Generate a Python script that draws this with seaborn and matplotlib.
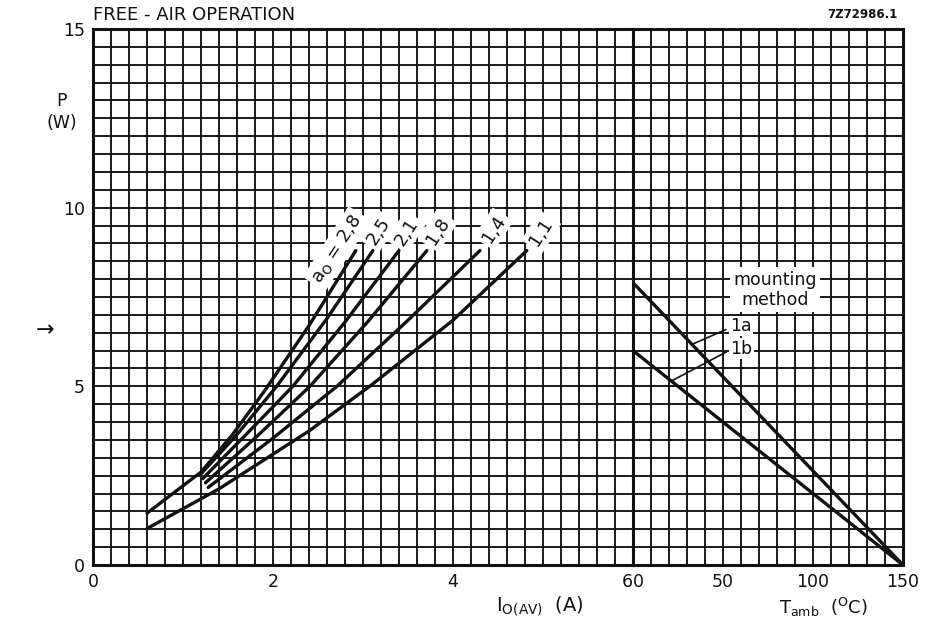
import numpy as np
import pandas as pd
import matplotlib
matplotlib.use("Agg")
import matplotlib.pyplot as plt
import seaborn as sns

# ---------------- data ----------------
# left panel: power P (W) vs average output current I_O(AV) (A), per form factor a_o
a28_I = [0.6, 1.2, 1.55, 1.9, 2.4, 2.92]
a28_P = [1.45, 2.6, 3.65, 4.85, 6.7, 8.8]
a25_I = [1.2, 1.6, 2.04, 2.6, 3.11]
a25_P = [2.55, 3.65, 5.0, 6.9, 8.8]
a21_I = [1.22, 1.7, 2.22, 2.8, 3.40]
a21_P = [2.42, 3.65, 5.0, 6.8, 8.8]
a18_I = [1.25, 1.8, 2.41, 3.05, 3.71]
a18_P = [2.3, 3.55, 5.0, 6.8, 8.8]
a14_I = [1.28, 2.0, 2.71, 3.5, 4.30]
a14_P = [2.17, 3.55, 5.0, 6.85, 8.8]
a11_I = [0.6, 1.4, 2.4, 3.1, 4.0, 4.82]
a11_P = [1.02, 2.13, 3.75, 5.05, 6.85, 8.8]
form_labels = ["a$_\\mathregular{O}$ = 2,8", "2,5", "2,1", "1,8", "1,4", "1,1"]

# right panel: P vs ambient temperature for mounting methods
tamb = [0, 150]
m1a_P = [7.9, 0.0]
m1b_P = [6.0, 0.0]

x_left_ticks = [0, 2, 4, 6]
x_right_ticks = [0, 50, 100, 150]
y_ticks = [0, 5, 10, 15]

# ---------------- build tables ----------------
curves = [(a28_I, a28_P), (a25_I, a25_P), (a21_I, a21_P),
          (a18_I, a18_P), (a14_I, a14_P), (a11_I, a11_P)]
names = ["2,8", "2,5", "2,1", "1,8", "1,4", "1,1"]
rows = []
for n, (I, P) in zip(names, curves):
    for k, (i, p) in enumerate(zip(I, P)):
        rows.append({"curve": n, "order": k, "I": i, "P": p})
df_left = pd.DataFrame(rows)

rows = []
for n, P in (("1a", m1a_P), ("1b", m1b_P)):
    for t, p in zip(tamb, P):
        rows.append({"method": n, "T": t, "P": p})
df_right = pd.DataFrame(rows)

# ---------------- style ----------------
sns.set_style("white")
plt.rcParams["font.family"] = ["DejaVu Sans"]
plt.rcParams["mathtext.fontset"] = "dejavusans"

W, H = 931, 630
fig = plt.figure(figsize=(W / 100, H / 100), dpi=100)
x0, x1, x2 = 93, 633, 903
ytop, ybot = 29, 565
ax1 = fig.add_axes([x0 / W, (H - ybot) / H, (x1 - x0) / W, (ybot - ytop) / H])
ax2 = fig.add_axes([x1 / W, (H - ybot) / H, (x2 - x1) / W, (ybot - ytop) / H])

black = "#111111"
grid_kw = dict(color=black, lw=1.35)

for ax in (ax1, ax2):
    ax.set_ylim(0, 15)
    ax.set_yticks(y_ticks)
    ax.set_yticks(np.arange(0, 15.01, 0.5), minor=True)
    ax.grid(which="both", **grid_kw)
    ax.set_axisbelow(True)
    for s in ax.spines.values():
        s.set_color(black)
        s.set_linewidth(2.2)
    ax.tick_params(which="both", length=0, labelsize=12.5, pad=6, colors=black)

ax1.set_xlim(0, 6)
ax1.set_xticks(x_left_ticks)
ax1.set_xticks(np.arange(0, 6.01, 0.2), minor=True)
ax2.set_xlim(0, 150)
ax2.set_xticks(x_right_ticks)
ax2.set_xticks(np.arange(0, 150.1, 10), minor=True)
ax2.set_yticklabels([])

xl = ax1.set_xticklabels([str(v) for v in x_left_ticks])
xl[-1].set_ha("right")
xr = ax2.set_xticklabels([str(v) for v in x_right_ticks])
xr[0].set_ha("left")

# ---------------- curves ----------------
sns.lineplot(data=df_left, x="I", y="P", units="curve", estimator=None,
             sort=False, color=black, lw=2.4, ax=ax1, legend=False)
sns.lineplot(data=df_right, x="T", y="P", units="method", estimator=None,
             sort=False, color=black, lw=2.4, ax=ax2, legend=False)
for ax in (ax1, ax2):
    ax.set_xlabel("")
    ax.set_ylabel("")

# curve labels (rotated, on white)
label_pos = [(2.71, 8.85), (3.17, 9.35), (3.48, 9.32), (3.83, 9.35), (4.45, 9.4), (4.98, 9.32)]
for txt, (xx, yy) in zip(form_labels, label_pos):
    ax1.text(xx, yy, txt, rotation=57, ha="center", va="center", fontsize=13,
             color=black, rotation_mode="anchor",
             bbox=dict(facecolor="white", edgecolor="none", pad=2.5), zorder=5)

# mounting method labels
ax2.text(78.9, 7.70, "mounting\nmethod", ha="center", va="center", fontsize=12.5,
         linespacing=1.15, color=black,
         bbox=dict(facecolor="white", edgecolor="none", pad=2.5), zorder=5)
ax2.text(53.9, 6.69, "1a", ha="left", va="center", fontsize=12.5, color=black,
         bbox=dict(facecolor="white", edgecolor="none", pad=1.0), zorder=5)
ax2.text(53.9, 6.05, "1b", ha="left", va="center", fontsize=12.5, color=black,
         bbox=dict(facecolor="white", edgecolor="none", pad=1.0), zorder=5)
ax2.annotate("", xy=(31.7, 6.15), xytext=(53.0, 6.62),
             arrowprops=dict(arrowstyle="-", color=black, lw=1.2))
ax2.annotate("", xy=(20.6, 5.13), xytext=(53.3, 6.0),
             arrowprops=dict(arrowstyle="-", color=black, lw=1.2))

# ---------------- figure texts ----------------
fig.text(x0 / W, 1 - 15 / H, "FREE - AIR OPERATION", ha="left", va="center",
         fontsize=13, color=black)
fig.text(898 / W, 1 - 14 / H, "7Z72986.1", ha="right", va="center",
         fontsize=8.5, fontweight="bold", color=black)
fig.text(62 / W, 1 - 112 / H, "P\n(W)", ha="center", va="center",
         fontsize=12.5, linespacing=1.3, color=black)
fig.text(45 / W, 1 - 330 / H, "\u2192", ha="center", va="center",
         fontsize=16, color=black)
fig.text(540 / W, 1 - 606 / H, r"$\mathregular{I_{O(AV)}}$  (A)", ha="center",
         va="center", fontsize=14, color=black)
fig.text(823 / W, 1 - 607 / H, r"$\mathregular{T_{amb}}$  ($\mathregular{^{O}}$C)",
         ha="center", va="center", fontsize=13, color=black)

fig.savefig("out.png", dpi=100)
